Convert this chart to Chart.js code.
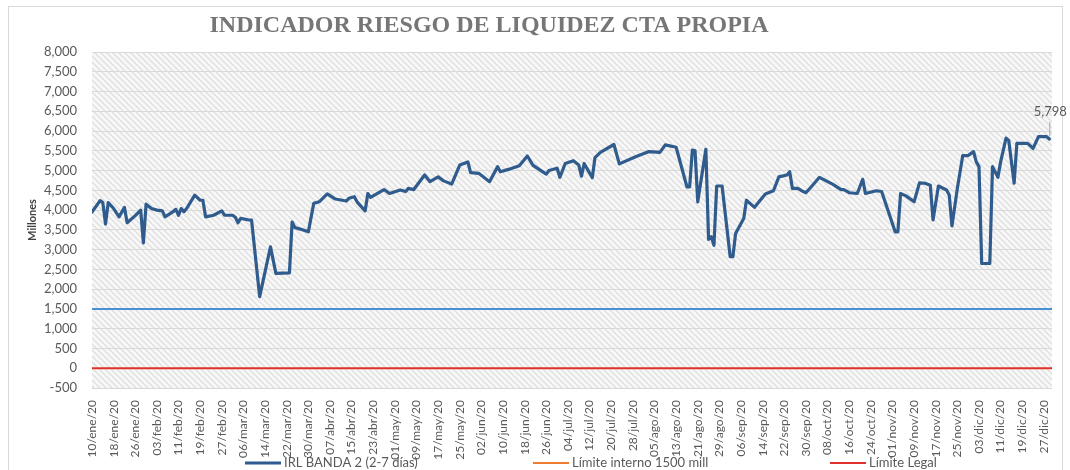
<!DOCTYPE html>
<html lang="es">
<head>
<meta charset="utf-8">
<title>Indicador Riesgo de Liquidez CTA Propia</title>
<script src="https://cdn.jsdelivr.net/npm/chart.js@4.4.1/dist/chart.umd.min.js"></script>
<style>
  html, body { margin: 0; padding: 0; background: #fff; }
  #wrap { width: 1070px; height: 470px; }
</style>
</head>
<body>
<div id="wrap"><canvas id="grafico" width="1070" height="470"></canvas></div>
<script>
// Fechas con dato (2020)
const fechas = [
  "2020-01-10", "2020-01-13", "2020-01-14", "2020-01-15", "2020-01-16", "2020-01-18", "2020-01-20", "2020-01-22",
  "2020-01-23", "2020-01-26", "2020-01-28", "2020-01-29", "2020-01-30", "2020-02-01", "2020-02-03", "2020-02-05",
  "2020-02-06", "2020-02-09", "2020-02-10", "2020-02-11", "2020-02-12", "2020-02-13", "2020-02-14", "2020-02-17",
  "2020-02-19", "2020-02-20", "2020-02-21", "2020-02-24", "2020-02-27", "2020-02-28", "2020-03-02", "2020-03-03",
  "2020-03-04", "2020-03-05", "2020-03-08", "2020-03-09", "2020-03-12", "2020-03-16", "2020-03-18", "2020-03-23",
  "2020-03-24", "2020-03-25", "2020-03-27", "2020-03-30", "2020-04-01", "2020-04-03", "2020-04-06", "2020-04-09",
  "2020-04-13", "2020-04-14", "2020-04-16", "2020-04-17", "2020-04-20", "2020-04-21", "2020-04-22", "2020-04-27",
  "2020-04-29", "2020-05-03", "2020-05-05", "2020-05-06", "2020-05-08", "2020-05-12", "2020-05-14", "2020-05-17",
  "2020-05-19", "2020-05-22", "2020-05-25", "2020-05-28", "2020-05-29", "2020-06-01", "2020-06-05", "2020-06-08",
  "2020-06-09", "2020-06-12", "2020-06-16", "2020-06-19", "2020-06-21", "2020-06-24", "2020-06-26", "2020-06-27",
  "2020-06-30", "2020-07-01", "2020-07-03", "2020-07-06", "2020-07-08", "2020-07-09", "2020-07-10", "2020-07-13",
  "2020-07-14", "2020-07-16", "2020-07-21", "2020-07-23", "2020-07-29", "2020-08-03", "2020-08-07", "2020-08-09",
  "2020-08-13", "2020-08-17", "2020-08-18", "2020-08-19", "2020-08-20", "2020-08-21", "2020-08-24", "2020-08-25",
  "2020-08-26", "2020-08-27", "2020-08-28", "2020-08-30", "2020-09-02", "2020-09-03", "2020-09-04", "2020-09-07",
  "2020-09-08", "2020-09-11", "2020-09-15", "2020-09-18", "2020-09-20", "2020-09-23", "2020-09-24", "2020-09-25",
  "2020-09-27", "2020-09-29", "2020-09-30", "2020-10-02", "2020-10-05", "2020-10-10", "2020-10-13", "2020-10-14",
  "2020-10-16", "2020-10-19", "2020-10-21", "2020-10-22", "2020-10-26", "2020-10-28", "2020-11-02", "2020-11-03",
  "2020-11-04", "2020-11-06", "2020-11-09", "2020-11-11", "2020-11-13", "2020-11-15", "2020-11-16", "2020-11-18",
  "2020-11-21", "2020-11-22", "2020-11-23", "2020-11-25", "2020-11-27", "2020-11-29", "2020-12-01", "2020-12-02",
  "2020-12-03", "2020-12-04", "2020-12-07", "2020-12-08", "2020-12-10", "2020-12-11", "2020-12-13", "2020-12-14",
  "2020-12-16", "2020-12-17", "2020-12-21", "2020-12-23", "2020-12-25", "2020-12-28", "2020-12-29",
]

// IRL banda 2 (2-7 dias), millones
const irlBanda2 = [
  3950, 4240, 4190, 3650, 4190, 4040, 3830, 4070,
  3680, 3860, 4000, 3170, 4150, 4040, 4000, 3980,
  3830, 3960, 4020, 3870, 4040, 3960, 4040, 4380,
  4250, 4250, 3830, 3870, 3980, 3870, 3870, 3820,
  3680, 3790, 3750, 3750, 1810, 3070, 2400, 2410,
  3700, 3560, 3520, 3450, 4170, 4210, 4410, 4280,
  4230, 4300, 4340, 4210, 3980, 4420, 4320, 4520,
  4420, 4510, 4470, 4550, 4520, 4890, 4720, 4840,
  4740, 4660, 5140, 5220, 4950, 4930, 4720, 5100,
  4970, 5030, 5120, 5370, 5140, 5000, 4910, 5000,
  5060, 4830, 5180, 5250, 5140, 4860, 5180, 4820,
  5330, 5460, 5660, 5170, 5350, 5480, 5460, 5650,
  5590, 4590, 4590, 5520, 5500, 4210, 5540, 3260,
  3330, 3110, 4610, 4610, 2820, 2820, 3410, 3790,
  4250, 4070, 4410, 4490, 4840, 4890, 4970, 4550,
  4550, 4470, 4440, 4590, 4830, 4650, 4520, 4520,
  4440, 4420, 4780, 4420, 4490, 4470, 3450, 3450,
  4420, 4360, 4210, 4690, 4680, 4630, 3750, 4610,
  4510, 4380, 3600, 4550, 5380, 5380, 5480, 5220,
  5100, 2650, 2650, 5100, 4830, 5220, 5820, 5760,
  4680, 5690, 5690, 5560, 5860, 5860, 5798,
]

const limiteInterno = 1500
const limiteLegal = 0

// Eje de fechas
const inicio = "2020-01-10"
const fin = "2020-12-30"
const pasoEje = 8
const meses = ["ene", "feb", "mar", "abr", "may", "jun", "jul", "ago", "sep", "oct", "nov", "dic"]

const DIA = 86400000
const dia = (f) => Math.round((Date.parse(f) - Date.parse(inicio)) / DIA)
const diaFin = dia(fin)

function etiquetaFecha(v) {
  const d = new Date(Date.parse(inicio) + v * DIA)
  const dd = String(d.getUTCDate()).padStart(2, "0")
  return `${dd}/${meses[d.getUTCMonth()]}/20`
}

const ticksEje = []
for (let v = 0; v <= diaFin; v += pasoEje) ticksEje.push(v)

const gris = "#595959"
const fuente = "Lato, 'Liberation Sans', sans-serif"

// Fondo rayado del area de trazado
const fondoRayado = {
  id: "fondoRayado",
  beforeDraw(chart) {
    const { ctx, chartArea: a } = chart
    const p = document.createElement("canvas")
    p.width = 6
    p.height = 6
    const pc = p.getContext("2d")
    pc.fillStyle = "#f8f8f8"
    pc.fillRect(0, 0, 6, 6)
    pc.strokeStyle = "#e0e0e0"
    pc.lineWidth = 1.4
    pc.beginPath()
    pc.moveTo(-1, -1)
    pc.lineTo(7, 7)
    pc.moveTo(-1, 5)
    pc.lineTo(1, 7)
    pc.moveTo(5, -1)
    pc.lineTo(7, 1)
    pc.stroke()
    ctx.save()
    ctx.fillStyle = "#fff"
    ctx.fillRect(0, 0, chart.width, chart.height)
    ctx.fillStyle = ctx.createPattern(p, "repeat")
    ctx.fillRect(a.left, a.top, a.right - a.left, a.bottom - a.top)
    ctx.restore()
  },
}

// Titulo, marco, leyenda y etiqueta del ultimo valor
const extras = {
  id: "extras",
  afterDraw(chart) {
    const { ctx } = chart
    ctx.save()

    ctx.strokeStyle = "#d9d9d9"
    ctx.lineWidth = 1
    ctx.strokeRect(8.5, 6.5, 1054, 470)

    ctx.fillStyle = "#767676"
    ctx.font = "bold 24px 'Liberation Serif', serif"
    ctx.textAlign = "center"
    ctx.textBaseline = "alphabetic"
    ctx.fillText("INDICADOR RIESGO DE LIQUIDEZ CTA PROPIA", 489, 32)

    // ultimo valor
    const meta = chart.getDatasetMeta(0)
    const pt = meta.data[meta.data.length - 1]
    ctx.strokeStyle = "#a6a6a6"
    ctx.lineWidth = 1
    ctx.beginPath()
    ctx.moveTo(pt.x + 0.5, pt.y - 17)
    ctx.lineTo(pt.x + 0.5, pt.y - 3)
    ctx.stroke()
    ctx.fillStyle = gris
    ctx.font = `13px ${fuente}`
    ctx.textBaseline = "middle"
    ctx.fillText(irlBanda2[irlBanda2.length - 1].toLocaleString("en-US"), pt.x + 1, pt.y - 27)

    // leyenda
    const xs = [245, 533, 830]
    chart.data.datasets.forEach((ds, i) => {
      const y = 463
      ctx.strokeStyle = ds.colorLeyenda
      ctx.lineWidth = ds.borderWidth
      ctx.beginPath()
      ctx.moveTo(xs[i], y)
      ctx.lineTo(xs[i] + 36, y)
      ctx.stroke()
      ctx.fillStyle = gris
      ctx.textAlign = "left"
      ctx.fillText(ds.label, xs[i] + 39, y)
    })

    ctx.restore()
  },
}

const ctx = document.getElementById("grafico").getContext("2d")
new Chart(ctx, {
  type: "line",
  data: {
    datasets: [
      {
        label: "IRL BANDA 2 (2-7 días)",
        data: fechas.map((f, i) => ({ x: dia(f), y: irlBanda2[i] })),
        borderColor: "#2f5b8d",
        colorLeyenda: "#2f5b8d",
        borderWidth: 3.2,
        borderJoinStyle: "round",
        borderCapStyle: "round",
        pointRadius: 0,
        tension: 0,
      },
      {
        label: "Límite interno 1500 mill",
        data: [{ x: 0, y: limiteInterno }, { x: diaFin, y: limiteInterno }],
        borderColor: "#4a8fd6",
        colorLeyenda: "#ed7d31",
        borderWidth: 2,
        pointRadius: 0,
      },
      {
        label: "Límite Legal",
        data: [{ x: 0, y: limiteLegal }, { x: diaFin, y: limiteLegal }],
        borderColor: "#e2312b",
        colorLeyenda: "#e2312b",
        borderWidth: 2,
        pointRadius: 0,
      },
    ],
  },
  options: {
    responsive: false,
    animation: false,
    layout: { padding: { top: 52, right: 18, bottom: 0, left: 0 } },
    plugins: {
      legend: { display: false },
      tooltip: { enabled: false },
    },
    scales: {
      x: {
        type: "linear",
        min: 0,
        max: diaFin,
        afterBuildTicks: (s) => {
          s.ticks = ticksEje.map((v) => ({ value: v }))
        },
        afterFit: (s) => {
          s.height = 82
        },
        grid: { display: false },
        border: { display: false },
        ticks: {
          autoSkip: false,
          minRotation: 90,
          maxRotation: 90,
          padding: 4,
          color: gris,
          font: { family: fuente, size: 12 },
          callback: (v) => etiquetaFecha(v),
        },
      },
      y: {
        min: -500,
        max: 8000,
        afterFit: (s) => {
          s.width = 92
        },
        grid: { color: "#d9d9d9", drawTicks: false },
        border: { display: false },
        ticks: {
          stepSize: 500,
          padding: 15,
          color: gris,
          font: { family: fuente, size: 13 },
          callback: (v) => v.toLocaleString("en-US"),
        },
        title: {
          display: true,
          text: "Millones",
          color: "#404040",
          font: { family: fuente, size: 11, weight: "bold" },
          padding: { top: 26, bottom: 0 },
        },
      },
    },
  },
  plugins: [fondoRayado, extras],
})
</script>
</body>
</html>
